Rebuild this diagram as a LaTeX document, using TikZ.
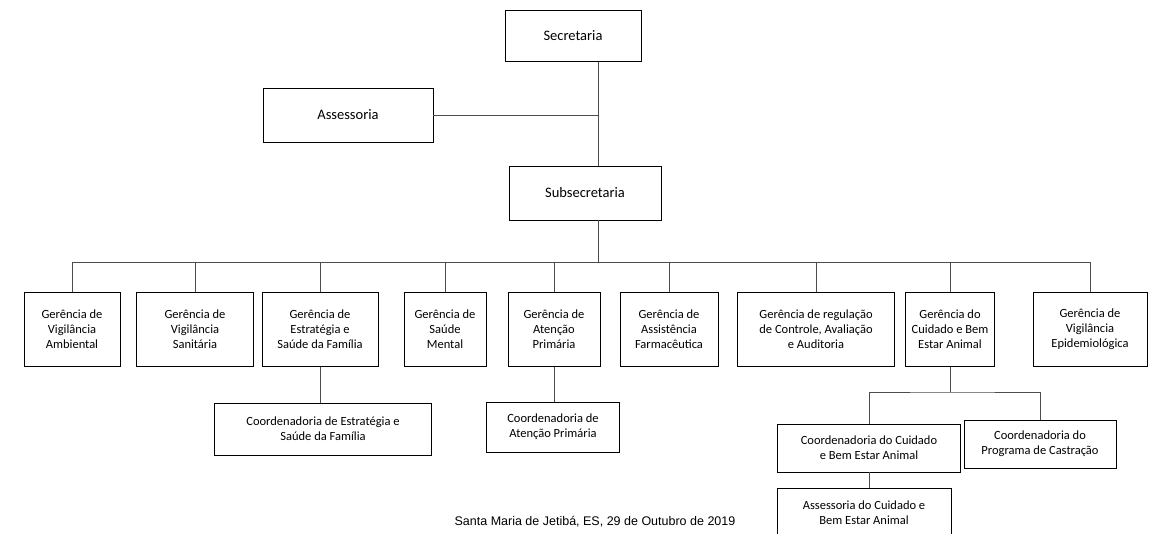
\documentclass[tikz,border=0pt]{standalone}
\usepackage{fontspec}
\setmainfont{Carlito}
\newfontfamily\footfont{Liberation Sans}
\usetikzlibrary{positioning}

\begin{document}
\begin{tikzpicture}[
        x=1pt, y=-1pt,
        unit/.style={
                draw=black,
                thick,
                align=center,
                inner sep=2pt,
                font=\fontsize{12.5}{15}\selectfont
            },
        top/.style={unit, font=\fontsize{14.5}{17}\selectfont},
        link/.style={draw=black!70}
    ]
    \useasboundingbox (0,0) rectangle (1164,533);
    % top levels
    \node[top,minimum width=136pt,minimum height=51pt] (sec) at (573,36) {Secretaria};
    \node[top,minimum width=170pt,minimum height=54pt] (ass) at (348,115) {Assessoria};
    \node[top,minimum width=152pt,minimum height=54pt] (sub) at (585,193) {Subsecretaria};
    \coordinate (spine) at (598,62);
    \coordinate (hub) at (598,115);
    \coordinate (bus) at (598,262);
    \draw[link] (spine) -- (598,166);
    \draw[link] (ass.east) -- (hub);
    \draw[link] (598,220) -- (bus);
    \draw[link] (72,262) -- (1090,262);

    % managers
    \foreach \name/\cx/\w/\txt in {
        gva/72/96/{Gerência de\\Vigilância\\Ambiental},
        gvs/195/117/{Gerência de\\Vigilância\\Sanitária},
        gesf/320/116/{Gerência de\\Estratégia e\\Saúde da Família},
        gsm/445/82/{Gerência de\\Saúde\\Mental},
        gap/554/92/{Gerência de\\Atenção\\Primária},
        gaf/669/98/{Gerência de\\Assistência\\Farmacêutica},
        grc/816/157/{Gerência de regulação\\de Controle, Avaliação\\e Auditoria},
        gcb/950/89/{Gerência do\\Cuidado e Bem\\Estar Animal},
        gve/1090/114/{Gerência de\\Vigilância\\Epidemiológica}} {
        \node[unit,minimum width=\w pt,minimum height=74pt,anchor=north] (\name) at (\cx,292) {\txt};
        \draw[link] (\cx,262) -- (\name.north);
    }

    % coordinations
    \node[unit,minimum width=217pt,minimum height=52pt] (cesf) at (323,429) {Coordenadoria de Estratégia e\\Saúde da Família};
    \draw[link] (gesf.south) -- (cesf.north -| gesf.south);
    \node[unit,minimum width=133pt,minimum height=50pt] (cap) at (553,427) {Coordenadoria de\\Atenção Primária};
    \draw[link] (gap.south) -- (cap.north -| gap.south);

    \node[unit,minimum width=183pt,minimum height=48pt] (ccb) at (869,448) {Coordenadoria do Cuidado\\e Bem Estar Animal};
    \node[unit,minimum width=152pt,minimum height=48pt] (cpc) at (1040,444) {Coordenadoria do\\Programa de Castração};
    \coordinate (split) at (950,392);
    \draw[link] (gcb.south) -- (split);
    \draw[link] (ccb.north) |- (split) -| (cpc.north);
    \node[unit,minimum width=174pt,minimum height=48pt,anchor=north] (acb) at (864,488) {Assessoria do Cuidado e\\Bem Estar Animal};
    \draw[link] (ccb.south) -- (ccb.south |- acb.north);

    \node[font=\footfont\fontsize{12.5}{14}\selectfont,fill=white,inner sep=1pt] (place) at (595,522) {Santa Maria de Jetibá, ES, 29 de Outubro de 2019};
\end{tikzpicture}
\end{document}
